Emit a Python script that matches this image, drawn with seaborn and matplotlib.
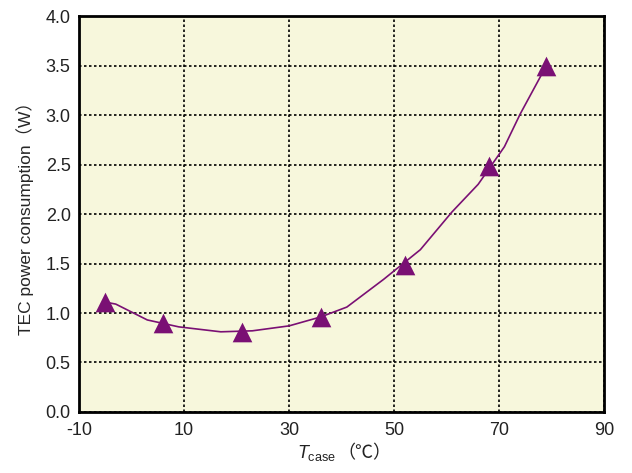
import numpy as np
import pandas as pd
import seaborn as sns
import matplotlib
matplotlib.use("Agg")
import matplotlib.pyplot as plt

# Measured points (triangles)
t_case = [-5, 6, 21, 36, 52, 68, 79]
power = [1.11, 0.90, 0.81, 0.96, 1.49, 2.49, 3.50]

# Smooth trend line
curve_t = [-5, -3, 3, 9, 17, 23, 30, 36, 41, 48, 55, 61, 66, 71, 74, 79]
curve_p = [1.11, 1.09, 0.93, 0.86, 0.81, 0.82, 0.87, 0.96, 1.06, 1.34, 1.64,
           2.02, 2.30, 2.68, 3.01, 3.50]

x_ticks = [-10, 10, 30, 50, 70, 90]
y_ticks = [0.0, 0.5, 1.0, 1.5, 2.0, 2.5, 3.0, 3.5, 4.0]

purple = "#7a1074"

sns.set_style("white")
plt.rcParams["font.family"] = ["Liberation Sans", "Noto Sans CJK JP", "DejaVu Sans"]
plt.rcParams["mathtext.fontset"] = "custom"
plt.rcParams["mathtext.rm"] = "Liberation Sans"
plt.rcParams["mathtext.it"] = "Liberation Sans:italic"
plt.rcParams["axes.unicode_minus"] = False

points = pd.DataFrame({"T": t_case, "P": power})
curve = pd.DataFrame({"T": curve_t, "P": curve_p})

fig = plt.figure(figsize=(6.32, 4.73), dpi=100)
ax = fig.add_axes([0.125, 0.129, 0.831, 0.837])
ax.set_facecolor("#f7f7dc")

sns.lineplot(data=curve, x="T", y="P", color=purple, linewidth=1.2, ax=ax)
sns.scatterplot(data=points, x="T", y="P", marker="^", s=200, color=purple,
                edgecolor=purple, linewidth=0, ax=ax, zorder=5)

ax.set_xlim(-10, 90)
ax.set_ylim(0, 4.0)
ax.set_xticks(x_ticks)
ax.set_yticks(y_ticks)
ax.set_yticklabels([f"{v:.1f}" for v in y_ticks])
ax.tick_params(axis="both", length=0, labelsize=13, colors="#222222")
ax.tick_params(axis="y", pad=6)
ax.tick_params(axis="x", pad=7)
ax.grid(True, color="black", linestyle=(0, (1.5, 1.5)), linewidth=1.2)
ax.set_axisbelow(True)
for sp in ax.spines.values():
    sp.set_color("black")
    sp.set_linewidth(2)

ax.set_xlabel("")
ax.set_ylabel("TEC power consumption（W）", fontsize=12.5, labelpad=8)

# x label: italic T with subscript, then the unit in a CJK-capable font
fig.text(0.532, 0.022, r"$\mathit{T}_{\mathrm{case}}$", fontsize=13,
         ha="right", va="bottom", color="#222222")
fig.text(0.534, 0.022, "（℃）", fontsize=13, ha="left", va="bottom",
         color="#222222", family=["Noto Sans CJK JP", "DejaVu Sans"])

fig.savefig("out.png", dpi=100)
